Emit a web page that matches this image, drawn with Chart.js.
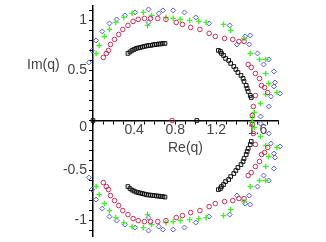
<!DOCTYPE html>
<html>
<head>
<meta charset="utf-8">
<script src="https://cdn.jsdelivr.net/npm/chart.js@4.4.1/dist/chart.umd.min.js"></script>
<style>
  html, body { margin: 0; padding: 0; background: #fff; }
</style>
</head>
<body>
<canvas id="myChart" width="326" height="242"></canvas>
<script>
// roots in the complex plane
var blackRe = [
  0, 1.01,
  0.34, 0.36, 0.38, 0.40, 0.42, 0.44, 0.46, 0.48, 0.50, 0.52, 0.54, 0.56, 0.58, 0.60, 0.62, 0.64, 0.66, 0.68, 0.70,
  1.22, 1.24, 1.25, 1.27, 1.29, 1.32, 1.34, 1.37, 1.39, 1.41, 1.44, 1.46, 1.47, 1.49, 1.50, 1.51, 1.53, 1.54,
  0.34, 0.36, 0.38, 0.40, 0.42, 0.44, 0.46, 0.48, 0.50, 0.52, 0.54, 0.56, 0.58, 0.60, 0.62, 0.64, 0.66, 0.68, 0.70,
  1.22, 1.24, 1.25, 1.27, 1.29, 1.32, 1.34, 1.37, 1.39, 1.41, 1.44, 1.46, 1.47, 1.49, 1.50, 1.51, 1.53, 1.54
];
var blackIm = [
  0, 0,
  0.67, 0.685, 0.70, 0.71, 0.72, 0.725, 0.73, 0.735, 0.74, 0.745, 0.75, 0.75, 0.755, 0.76, 0.76, 0.765, 0.765, 0.77, 0.77,
  0.70, 0.69, 0.67, 0.65, 0.62, 0.60, 0.57, 0.54, 0.51, 0.48, 0.45, 0.42, 0.39, 0.35, 0.32, 0.29, 0.25, 0.23,
  -0.66, -0.68, -0.695, -0.705, -0.715, -0.72, -0.725, -0.73, -0.735, -0.74, -0.745, -0.745, -0.75, -0.75, -0.755, -0.755, -0.76, -0.76, -0.765,
  -0.69, -0.68, -0.66, -0.64, -0.61, -0.59, -0.56, -0.53, -0.50, -0.47, -0.44, -0.41, -0.38, -0.34, -0.31, -0.28, -0.24, -0.21
];

var redRe = [
  0.77,
  0.10, 0.13, 0.15, 0.17, 0.21, 0.25, 0.29, 0.34, 0.39, 0.44, 0.50, 0.56, 0.63, 0.71, 0.81, 0.87, 0.95,
  1.04, 1.13, 1.19, 1.28, 1.36, 1.42, 1.47, 1.51, 1.54, 1.58, 1.62, 1.64, 1.67, 1.70, 1.58, 1.56, 1.55,
  0.10, 0.13, 0.15, 0.17, 0.21, 0.25, 0.29, 0.34, 0.39, 0.44, 0.50, 0.56, 0.63, 0.71, 0.81, 0.87, 0.95,
  1.04, 1.13, 1.19, 1.28, 1.36, 1.42, 1.47, 1.51, 1.54, 1.58, 1.62, 1.64, 1.67, 1.70, 1.58, 1.56, 1.55
];
var redIm = [
  0,
  0.63, 0.67, 0.70, 0.76, 0.81, 0.86, 0.91, 0.95, 0.99, 1.01, 1.02, 1.02, 1.02, 1.01, 0.98, 0.96, 0.93,
  0.91, 0.87, 0.84, 0.82, 0.81, 0.79, 0.79, 0.56, 0.53, 0.47, 0.42, 0.35, 0.33, 0.28, 0.25, 0.14, 0.05,
  -0.62, -0.66, -0.69, -0.75, -0.80, -0.85, -0.90, -0.94, -0.98, -1.00, -1.01, -1.01, -1.01, -1.00, -0.97, -0.95, -0.92,
  -0.90, -0.86, -0.83, -0.81, -0.80, -0.78, -0.78, -0.55, -0.52, -0.46, -0.41, -0.34, -0.32, -0.27, -0.24, -0.13, -0.04
];

var greenRe = [
  0.03, 0.06, 0.11, 0.16, 0.22, 0.30, 0.38, 0.49, 0.57, 0.53, 0.71, 0.78, 0.85, 0.94, 1.03,
  1.10, 1.27, 1.34, 1.47, 1.53, 1.62, 1.68, 1.68, 1.71, 1.79, 1.68, 1.63, 1.57, 1.55,
  0.03, 0.06, 0.11, 0.16, 0.22, 0.30, 0.38, 0.49, 0.57, 0.53, 0.71, 0.78, 0.85, 0.94, 1.03,
  1.10, 1.27, 1.34, 1.47, 1.53, 1.62, 1.68, 1.68, 1.71, 1.79, 1.68, 1.63, 1.57, 1.55
];
var greenIm = [
  0.67, 0.75, 0.84, 0.91, 0.98, 1.03, 1.07, 1.08, 1.05, 0.95, 1.03, 1.02, 1.01, 1.00, 0.99,
  0.98, 0.96, 0.90, 0.82, 0.67, 0.61, 0.61, 0.47, 0.37, 0.28, 0.26, 0.17, 0.08, 0.03,
  -0.66, -0.74, -0.83, -0.90, -0.97, -1.02, -1.06, -1.07, -1.04, -0.94, -1.02, -1.01, -1.00, -0.99, -0.98,
  -0.97, -0.95, -0.89, -0.81, -0.66, -0.60, -0.60, -0.46, -0.36, -0.27, -0.25, -0.16, -0.07, -0.02
];

var blueRe = [
  -0.04, -0.01, 0.03, 0.09, 0.16, 0.23, 0.31, 0.41, 0.54, 0.54, 0.64, 0.68, 0.78, 0.89, 1.00, 1.13,
  1.33, 1.40, 1.48, 1.53, 1.52, 1.60, 1.66, 1.71, 1.76, 1.77, 1.76, 1.82, 1.73, 1.71, 1.63,
  -0.04, -0.01, 0.03, 0.09, 0.16, 0.23, 0.31, 0.41, 0.54, 0.54, 0.64, 0.68, 0.78, 0.89, 1.00, 1.13,
  1.33, 1.40, 1.48, 1.53, 1.52, 1.60, 1.66, 1.71, 1.76, 1.77, 1.76, 1.82, 1.73, 1.71, 1.63
];
var blueIm = [
  0.58, 0.70, 0.80, 0.89, 0.97, 1.01, 1.05, 1.08, 1.11, 0.98, 1.07, 1.10, 1.10, 1.08, 1.03, 0.97,
  0.95, 0.76, 0.84, 0.85, 0.76, 0.67, 0.56, 0.61, 0.49, 0.38, 0.34, 0.27, 0.24, 0.14, 0.04,
  -0.57, -0.69, -0.79, -0.88, -0.96, -1.00, -1.04, -1.07, -1.10, -0.97, -1.06, -1.09, -1.09, -1.07, -1.02, -0.96,
  -0.94, -0.75, -0.83, -0.84, -0.75, -0.66, -0.55, -0.60, -0.48, -0.37, -0.33, -0.26, -0.23, -0.13, -0.03
];

var xTickLabels = [0.4, 0.8, 1.2, 1.6];
var yTickLabels = [-1, -0.5, 0.5, 1];
var xTitle = 'Re(q)';
var yTitle = 'Im(q)';
var originLabel = '0';

function pts(re, im) {
  return re.map(function (x, i) { return { x: x, y: im[i] }; });
}

function pickLabel(list) {
  return function (v) {
    for (var i = 0; i < list.length; i++) {
      if (Math.abs(list[i] - v) < 1e-6) return String(list[i]);
    }
    return '';
  };
}

var axisText = {
  id: 'axisText',
  afterDraw: function (chart) {
    var ctx = chart.ctx;
    var xs = chart.scales.x, ys = chart.scales.y;
    var y0 = ys.getPixelForValue(0);
    ctx.save();
    ctx.font = '14px "Liberation Sans", Arial, sans-serif';
    ctx.fillStyle = '#444';
    ctx.textBaseline = 'middle';
    ctx.textAlign = 'left';
    ctx.fillText(yTitle, 27, ys.getPixelForValue(0.55));
    ctx.textAlign = 'center';
    ctx.fillText(xTitle, (xs.left + xs.right) / 2, y0 + 28);
    ctx.textAlign = 'right';
    ctx.fillText(originLabel, xs.left - 6, y0 + 7);
    ctx.restore();
  }
};

var tickFont = { family: '"Liberation Sans", Arial, sans-serif', size: 14 };

var ctx = document.getElementById('myChart').getContext('2d');
var myChart = new Chart(ctx, {
  type: 'scatter',
  data: {
    datasets: [{
      data: pts(blackRe, blackIm),
      pointStyle: 'rect',
      pointRadius: 2.6,
      pointBorderWidth: 1,
      borderColor: '#111',
      backgroundColor: 'rgba(255,255,255,0)',
      clip: false
    }, {
      data: pts(redRe, redIm),
      pointStyle: 'circle',
      pointRadius: 2.3,
      pointBorderWidth: 1,
      borderColor: 'rgb(200, 45, 85)',
      backgroundColor: 'rgba(255,255,255,0)',
      clip: false
    }, {
      data: pts(greenRe, greenIm),
      pointStyle: 'cross',
      pointRadius: 2.8,
      pointBorderWidth: 1.4,
      borderColor: 'rgb(70, 240, 40)',
      backgroundColor: 'rgba(255,255,255,0)',
      clip: false
    }, {
      data: pts(blueRe, blueIm),
      pointStyle: 'rectRot',
      pointRadius: 2.5,
      pointBorderWidth: 1,
      borderColor: 'rgb(80, 90, 220)',
      backgroundColor: 'rgba(255,255,255,0)',
      clip: false
    }]
  },
  options: {
    responsive: false,
    animation: false,
    devicePixelRatio: 1,
    events: [],
    layout: { padding: { left: 0, right: 48, top: 3, bottom: 2 } },
    plugins: { legend: { display: false }, tooltip: { enabled: false } },
    scales: {
      x: {
        type: 'linear',
        position: { y: 0 },
        min: 0,
        max: 1.8,
        border: { color: '#000', width: 1.5 },
        grid: { drawOnChartArea: false, color: '#000', tickLength: 3 },
        ticks: {
          stepSize: 0.1,
          autoSkip: false,
          maxRotation: 0,
          padding: 0,
          color: '#444',
          font: { family: tickFont.family, size: 14, lineHeight: 1 },
          callback: pickLabel(xTickLabels)
        }
      },
      y: {
        type: 'linear',
        position: 'left',
        min: -1.16,
        max: 1.15,
        afterFit: function (s) { s.width = 93; },
        border: { color: '#000', width: 1.5 },
        grid: { drawOnChartArea: false, color: '#000', tickLength: 4 },
        ticks: {
          stepSize: 0.1,
          includeBounds: false,
          autoSkip: false,
          padding: 2,
          color: '#444',
          font: { family: tickFont.family, size: 14, lineHeight: '2px' },
          callback: pickLabel(yTickLabels)
        }
      }
    }
  },
  plugins: [axisText]
});
</script>
</body>
</html>
